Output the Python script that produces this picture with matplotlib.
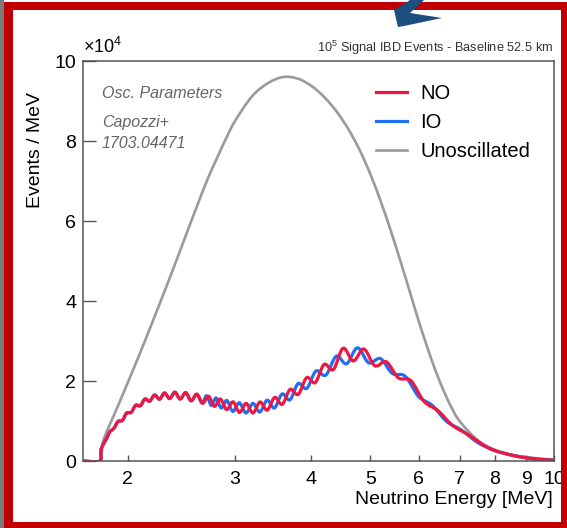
import numpy as np
import matplotlib
matplotlib.use("Agg")
import matplotlib.pyplot as plt
from matplotlib.patches import Rectangle, Polygon, PathPatch
from matplotlib.path import Path
from matplotlib.lines import Line2D
from matplotlib.ticker import FixedLocator, FixedFormatter, NullLocator

plt.rcParams['font.family'] = ['Liberation Sans', 'DejaVu Sans']

# spectra in units of 1e4 events / MeV
energy_no = [1.70, 1.80, 1.81, 1.85, 1.869, 1.899, 1.929, 1.961, 1.993, 2.027,
             2.062, 2.098, 2.135, 2.174, 2.214, 2.256, 2.299, 2.344, 2.390, 2.439,
             2.490, 2.542, 2.597, 2.655, 2.714, 2.775, 2.839, 2.906, 2.977, 3.051,
             3.128, 3.210, 3.297, 3.388, 3.484, 3.585, 3.693, 3.808, 3.931, 4.060,
             4.199, 4.348, 4.511, 4.688, 4.878, 5.085, 5.310, 5.556, 5.825, 6.122,
             6.452, 6.818, 7.229, 7.692, 8.0, 8.5, 9.0, 9.5, 10.0]
events_no = [0, 0, 0.30, 0.58, 0.725, 0.82, 0.99, 1.015, 1.20, 1.215,
             1.395, 1.38, 1.55, 1.495, 1.65, 1.545, 1.70, 1.56, 1.72, 1.55,
             1.71, 1.505, 1.67, 1.445, 1.62, 1.365, 1.55, 1.285, 1.48, 1.215,
             1.44, 1.20, 1.475, 1.27, 1.59, 1.415, 1.79, 1.665, 2.085, 1.96,
             2.415, 2.285, 2.82, 2.50, 2.80, 2.38, 2.48, 2.08, 2.01, 1.49,
             1.26, 0.89, 0.66, 0.38, 0.26, 0.15, 0.08, 0.04, 0.02]

energy_io = [1.70, 1.80, 1.81, 1.85, 1.869, 1.899, 1.929, 1.961, 1.993, 2.027,
             2.062, 2.098, 2.135, 2.174, 2.214, 2.256, 2.299, 2.344, 2.390, 2.439,
             2.490, 2.542, 2.597, 2.649, 2.695, 2.743, 2.793, 2.848, 2.908, 2.975,
             3.049, 3.127, 3.209, 3.295, 3.386, 3.481, 3.583, 3.691, 3.806, 3.933,
             4.071, 4.225, 4.396, 4.571, 4.762, 4.969, 5.195, 5.430, 5.701, 6.000,
             6.316, 6.667, 7.059, 7.500, 8.0, 8.5, 9.0, 9.5, 10.0]
events_io = [0, 0, 0.30, 0.58, 0.725, 0.82, 0.99, 1.015, 1.20, 1.215,
             1.395, 1.38, 1.55, 1.495, 1.65, 1.545, 1.70, 1.56, 1.72, 1.55,
             1.71, 1.505, 1.67, 1.45, 1.63, 1.39, 1.575, 1.325, 1.515, 1.24,
             1.455, 1.20, 1.44, 1.225, 1.52, 1.325, 1.675, 1.53, 1.935, 1.815,
             2.25, 2.145, 2.62, 2.43, 2.83, 2.455, 2.56, 2.19, 2.12, 1.61,
             1.39, 0.99, 0.77, 0.46, 0.26, 0.15, 0.08, 0.04, 0.02]

energy_unosc = [1.70, 1.80, 1.82, 1.85, 1.90, 1.95, 2.0, 2.1, 2.2, 2.3,
                2.4, 2.5, 2.6, 2.7, 2.8, 2.9, 3.0, 3.2, 3.4, 3.6,
                3.8, 4.0, 4.2, 4.4, 4.6, 4.8, 5.0, 5.2, 5.4, 5.6,
                5.8, 6.0, 6.25, 6.5, 6.75, 7.0, 7.5, 8.0, 8.5, 9.0,
                9.5, 10.0]
events_unosc = [0, 0, 0.45, 0.75, 1.15, 1.55, 1.95, 2.73, 3.5, 4.25,
                4.98, 5.7, 6.38, 7.02, 7.56, 8.06, 8.5, 9.12, 9.45, 9.6,
                9.56, 9.38, 9.1, 8.74, 8.3, 7.78, 7.17, 6.49, 5.76, 5.0,
                4.24, 3.5, 2.68, 1.98, 1.42, 1.0, 0.52, 0.28, 0.16, 0.1,
                0.06, 0.035]

x_ticks = [2, 3, 4, 5, 6, 7, 8, 9, 10]
y_ticks = [0, 2, 4, 6, 8, 10]

W, H = 567, 528
RED = "#f0163f"
BLUE = "#1f6ff5"
GRAY = "#9a9a9a"


def smooth_path(xs, ys):
    """Catmull-Rom curve through the points, built in log-x space."""
    u = np.log10(xs)
    y = np.asarray(ys, dtype=float)
    n = len(u)
    verts = [(xs[0], ys[0])]
    codes = [Path.MOVETO]
    for i in range(n - 1):
        up, yp = (u[i - 1], y[i - 1]) if i > 0 else (u[i], y[i])
        un, yn = (u[i + 2], y[i + 2]) if i + 2 < n else (u[i + 1], y[i + 1])
        c1 = (u[i] + (u[i + 1] - up) / 6, y[i] + (y[i + 1] - yp) / 6)
        c2 = (u[i + 1] - (un - u[i]) / 6, y[i + 1] - (yn - y[i]) / 6)
        verts += [(10 ** c1[0], c1[1]), (10 ** c2[0], c2[1]), (xs[i + 1], ys[i + 1])]
        codes += [Path.CURVE4] * 3
    return Path(verts, codes)


fig = plt.figure(figsize=(W / 100, H / 100), dpi=100)

# frame decoration around the slide
fig.patches.append(Rectangle((0, 0), 4 / W, 1, transform=fig.transFigure,
                             facecolor="#7a7a7a", edgecolor="none"))
fig.patches.append(Rectangle((4 / W, 0), 9 / W, 1 - 2 / H, transform=fig.transFigure,
                             facecolor="#c00000", edgecolor="none"))
fig.patches.append(Rectangle((4 / W, 1 - 10 / H), 1, 8 / H, transform=fig.transFigure,
                             facecolor="#c00000", edgecolor="none"))
fig.patches.append(Rectangle((4 / W, 0), 1, 6 / H, transform=fig.transFigure,
                             facecolor="#c00000", edgecolor="none"))
fig.patches.append(Rectangle((561 / W, 0), 6 / W, 1 - 2 / H, transform=fig.transFigure,
                             facecolor="#c00000", edgecolor="none"))
logo = [(398, 27), (394, 10), (410, 0), (424, 0), (410, 13), (442, 18), (404, 26)]
fig.patches.append(Polygon([(x / W, 1 - y / H) for x, y in logo], closed=True,
                           transform=fig.transFigure, facecolor="#1d4f7e",
                           edgecolor="none"))

ax = fig.add_axes([83 / W, 1 - 461 / H, (554 - 83) / W, (461 - 61) / H])
ax.set_xscale("log")
ax.set_xlim(1.69, 10)
ax.set_ylim(0, 10)

series = [
    (energy_unosc, events_unosc, GRAY, 1.9, 2),
    (energy_io, events_io, BLUE, 2.3, 3),
    (energy_no, events_no, RED, 2.3, 4),
]
for xs, ys, col, lw, z in series:
    ax.add_patch(PathPatch(smooth_path(xs, ys), fill=False, edgecolor=col,
                           lw=lw, zorder=z, capstyle="round", joinstyle="round"))

ax.xaxis.set_major_locator(FixedLocator(x_ticks))
ax.xaxis.set_major_formatter(FixedFormatter([str(t) for t in x_ticks]))
ax.xaxis.set_minor_locator(NullLocator())
ax.set_yticks(y_ticks)
ax.set_yticklabels([str(t) for t in y_ticks])

for s in ax.spines.values():
    s.set_color("#555555")
    s.set_linewidth(1.1)
    s.set_zorder(5)
ax.tick_params(axis="x", direction="in", length=4.5, width=1, color="#555555",
               labelsize=14, pad=7)
ax.tick_params(axis="y", direction="in", length=9, width=1, color="#555555",
               labelsize=14, pad=5)

handles = [Line2D([], [], color=RED, lw=2.3), Line2D([], [], color=BLUE, lw=2.3),
           Line2D([], [], color=GRAY, lw=1.9)]
ax.legend(handles, ["NO", "IO", "Unoscillated"],
          loc="upper left", bbox_to_anchor=(376 / W, 1 - 84 / H),
          bbox_transform=fig.transFigure, frameon=False, fontsize=14.5,
          handlelength=1.55, handletextpad=0.65, labelspacing=0.5,
          borderpad=0, borderaxespad=0)

fig.text(83 / W, 1 - 53 / H, r"$\mathregular{\times10^{4}}$", fontsize=13,
         ha="left", va="baseline")
fig.text(553 / W, 1 - 48 / H, r"$\mathregular{10^{5}}$ Signal IBD Events - Baseline 52.5 km",
         fontsize=9.2, color="#333333", ha="right", va="center")
fig.text(35 / W, 1 - 92 / H, "Events / MeV", fontsize=14, rotation=90,
         ha="center", va="top")
fig.text(553 / W, 1 - 500 / H, "Neutrino Energy [MeV]", fontsize=14,
         ha="right", va="center")

for txt, y in [("Osc. Parameters", 93), ("Capozzi+", 122), ("1703.04471", 144)]:
    fig.text(102 / W, 1 - y / H, txt, fontsize=11.5, style="italic",
             color="#666666", ha="left", va="center")

fig.savefig("out.png", dpi=100)
